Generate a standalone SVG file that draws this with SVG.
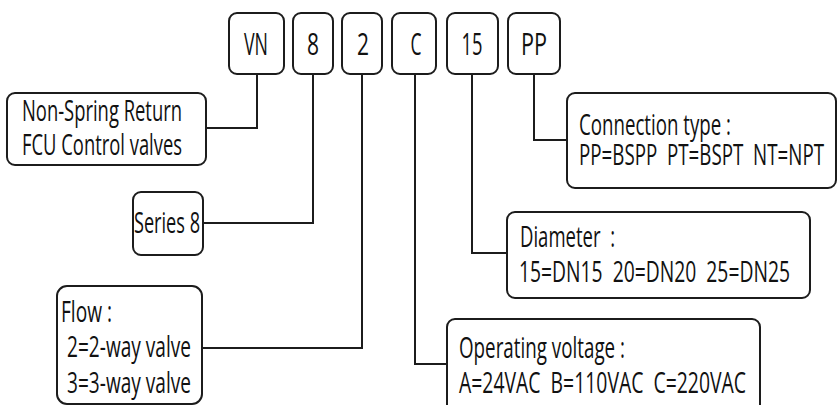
<svg xmlns="http://www.w3.org/2000/svg" width="838" height="405" viewBox="0 0 838 405">
<style>
.box{fill:#fff;stroke:#1c1c1c;stroke-width:2}
.t{font-family:"Open Sans","Noto Sans",sans-serif;font-size:30px;fill:#111;white-space:pre}
.c{text-anchor:middle;font-size:31px}
.ln{fill:none;stroke:#1c1c1c;stroke-width:2}
</style>
<rect width="838" height="405" fill="#fff"/>
<g id="connectors">
<polyline class="ln" points="257,74 257,128 206,128"/>
<polyline class="ln" points="313,74 313,223 203,223"/>
<polyline class="ln" points="362,74 362,348 202,348"/>
<polyline class="ln" points="415,74 415,364 447,364"/>
<polyline class="ln" points="472,74 472,253 507,253"/>
<polyline class="ln" points="534,74 534,140 567,140"/>
</g>
<g id="code-VN"><rect class="box" x="229" y="13" width="55" height="61" rx="8"/><text class="t c" x="256" y="55" textLength="24" lengthAdjust="spacingAndGlyphs">VN</text></g>
<g id="code-8"><rect class="box" x="293" y="13" width="40" height="61" rx="8"/><text class="t c" x="313" y="55" textLength="12" lengthAdjust="spacingAndGlyphs">8</text></g>
<g id="code-2"><rect class="box" x="342" y="13" width="40" height="61" rx="8"/><text class="t c" x="363" y="55" textLength="12" lengthAdjust="spacingAndGlyphs">2</text></g>
<g id="code-C"><rect class="box" x="392" y="13" width="44" height="61" rx="8"/><text class="t c" x="416" y="55" textLength="11" lengthAdjust="spacingAndGlyphs">C</text></g>
<g id="code-15"><rect class="box" x="447" y="13" width="51" height="61" rx="8"/><text class="t c" x="472" y="55" textLength="21" lengthAdjust="spacingAndGlyphs">15</text></g>
<g id="code-PP"><rect class="box" x="508" y="13" width="52" height="61" rx="8"/><text class="t c" x="534" y="55" textLength="26" lengthAdjust="spacingAndGlyphs">PP</text></g>
<g id="non-spring"><rect class="box" x="7" y="93" width="199" height="72" rx="8"/>
<text class="t" x="22" y="121" textLength="160" lengthAdjust="spacingAndGlyphs">Non-Spring Return</text>
<text class="t" x="22" y="155" textLength="160" lengthAdjust="spacingAndGlyphs">FCU Control valves</text></g>
<g id="series"><rect class="box" x="133" y="192" width="70" height="63" rx="8"/>
<text class="t" x="134" y="233" textLength="66" lengthAdjust="spacingAndGlyphs">Series 8</text></g>
<g id="flow"><rect class="box" x="57" y="286" width="145" height="118" rx="10"/>
<text class="t" x="61" y="322" textLength="51" lengthAdjust="spacingAndGlyphs">Flow :</text>
<text class="t" x="67" y="357" textLength="124" lengthAdjust="spacingAndGlyphs">2=2-way valve</text>
<text class="t" x="67" y="393" textLength="124" lengthAdjust="spacingAndGlyphs">3=3-way valve</text></g>
<g id="voltage"><rect class="box" x="447" y="319" width="313" height="110" rx="8"/>
<text class="t" x="459" y="358" textLength="166" lengthAdjust="spacingAndGlyphs">Operating voltage :</text>
<text class="t" x="459" y="393" textLength="287" lengthAdjust="spacingAndGlyphs" xml:space="preserve">A=24VAC  B=110VAC  C=220VAC</text></g>
<g id="diameter"><rect class="box" x="507" y="212" width="303" height="86" rx="8"/>
<text class="t" x="520" y="247" textLength="95" lengthAdjust="spacingAndGlyphs" xml:space="preserve">Diameter  :</text>
<text class="t" x="519" y="282" textLength="271" lengthAdjust="spacingAndGlyphs" xml:space="preserve">15=DN15  20=DN20  25=DN25</text></g>
<g id="connection"><rect class="box" x="567" y="93" width="269" height="95" rx="8"/>
<text class="t" x="579" y="135" textLength="152" lengthAdjust="spacingAndGlyphs">Connection type :</text>
<text class="t" x="579" y="165" textLength="245" lengthAdjust="spacingAndGlyphs" xml:space="preserve">PP=BSPP  PT=BSPT  NT=NPT</text></g>
</svg>
